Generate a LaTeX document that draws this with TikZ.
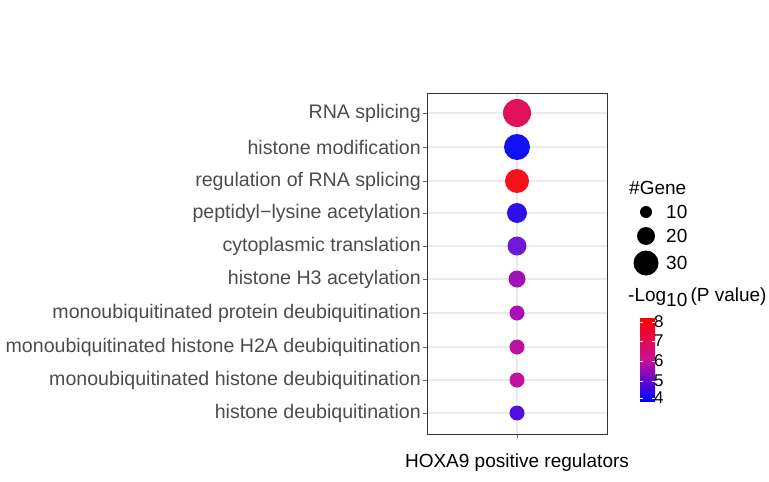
\documentclass[tikz,border=0pt]{standalone}
\usepackage{fontspec}
\setmainfont{Liberation Sans}
\begin{document}
\begin{tikzpicture}[x=1pt,y=-1pt,
  lab/.style={anchor=east,text=black!70,font=\fontsize{19.6}{22}\selectfont,inner sep=0pt},
  leg/.style={anchor=west,font=\fontsize{19}{22}\selectfont,inner sep=0pt},
  dot/.style={circle,inner sep=0pt}]
\useasboundingbox (0,0) rectangle (769,482);
\definecolor{gl}{gray}{0.92}
\draw[gl,line width=1.2pt] (517,93) -- (517,434);
\foreach \y/\t in {113/RNA splicing,147/histone modification,181/regulation of RNA splicing,213/peptidyl{\char"2212}lysine acetylation,246/cytoplasmic translation,279/histone H3 acetylation,313/monoubiquitinated protein deubiquitination,347/monoubiquitinated histone H2A deubiquitination,380/monoubiquitinated histone deubiquitination,413/histone deubiquitination}{
  \draw[gl,line width=1.2pt] (427,\y) -- (607,\y);
  \draw[black!60,line width=0.8pt] (423,\y) -- (427,\y);
  \node[lab] at (421,\y) {\t};
}
\draw[black!60,line width=0.8pt] (517,434) -- (517,438);
\node[draw=black!80,line width=1pt,minimum width=180pt,minimum height=341pt,inner sep=0pt] (panel) at (517,263.5) {};
\definecolor{c1}{HTML}{E0105A}\definecolor{c2}{HTML}{1010F0}\definecolor{c3}{HTML}{F5101A}
\definecolor{c4}{HTML}{3010EA}\definecolor{c5}{HTML}{7018D8}\definecolor{c6}{HTML}{A010B8}
\definecolor{c7}{HTML}{A810B8}\definecolor{c8}{HTML}{C010A0}\definecolor{c9}{HTML}{C410A0}
\definecolor{c10}{HTML}{5010E0}
\foreach \i/\y/\r in {1/113/14,2/147/13,3/181/12,4/213/10,5/246/9.5,6/279/8.5,7/313/7.5,8/347/7.5,9/380/7.5,10/413/7.5}{
  \node[dot,fill=c\i,minimum size=2*\r pt] (d\i) at (517,\y) {};
}
\node[anchor=north,font=\fontsize{19}{22}\selectfont] (xl) at (517,450) {HOXA9 positive regulators};
\node[leg] (gt) at (629,188) {\#Gene};
\foreach \y/\r/\t in {212/6/10,236/9/20,263/12.5/30}{
  \node[dot,fill=black,minimum size=2*\r pt] at (646,\y) {};
  \node[leg] at (666,\y) {\t};
}
\node[leg] (pt) at (628,297) {-Log\raisebox{-5pt}{10}\,(P value)};
\shade[top color=red,bottom color=blue,middle color={rgb,255:red,200;green,16;blue,150}] (640,318) rectangle (655,401);
\foreach \y/\t in {322/8,341/7,361/6,381/5,398/4}{
  \draw[white,line width=1pt] (640,\y) -- (643,\y);
  \draw[white,line width=1pt] (652,\y) -- (655,\y);
  \node[leg,font=\fontsize{17}{17}\selectfont] at (654,\y) {\t};
}
\end{tikzpicture}
\end{document}
